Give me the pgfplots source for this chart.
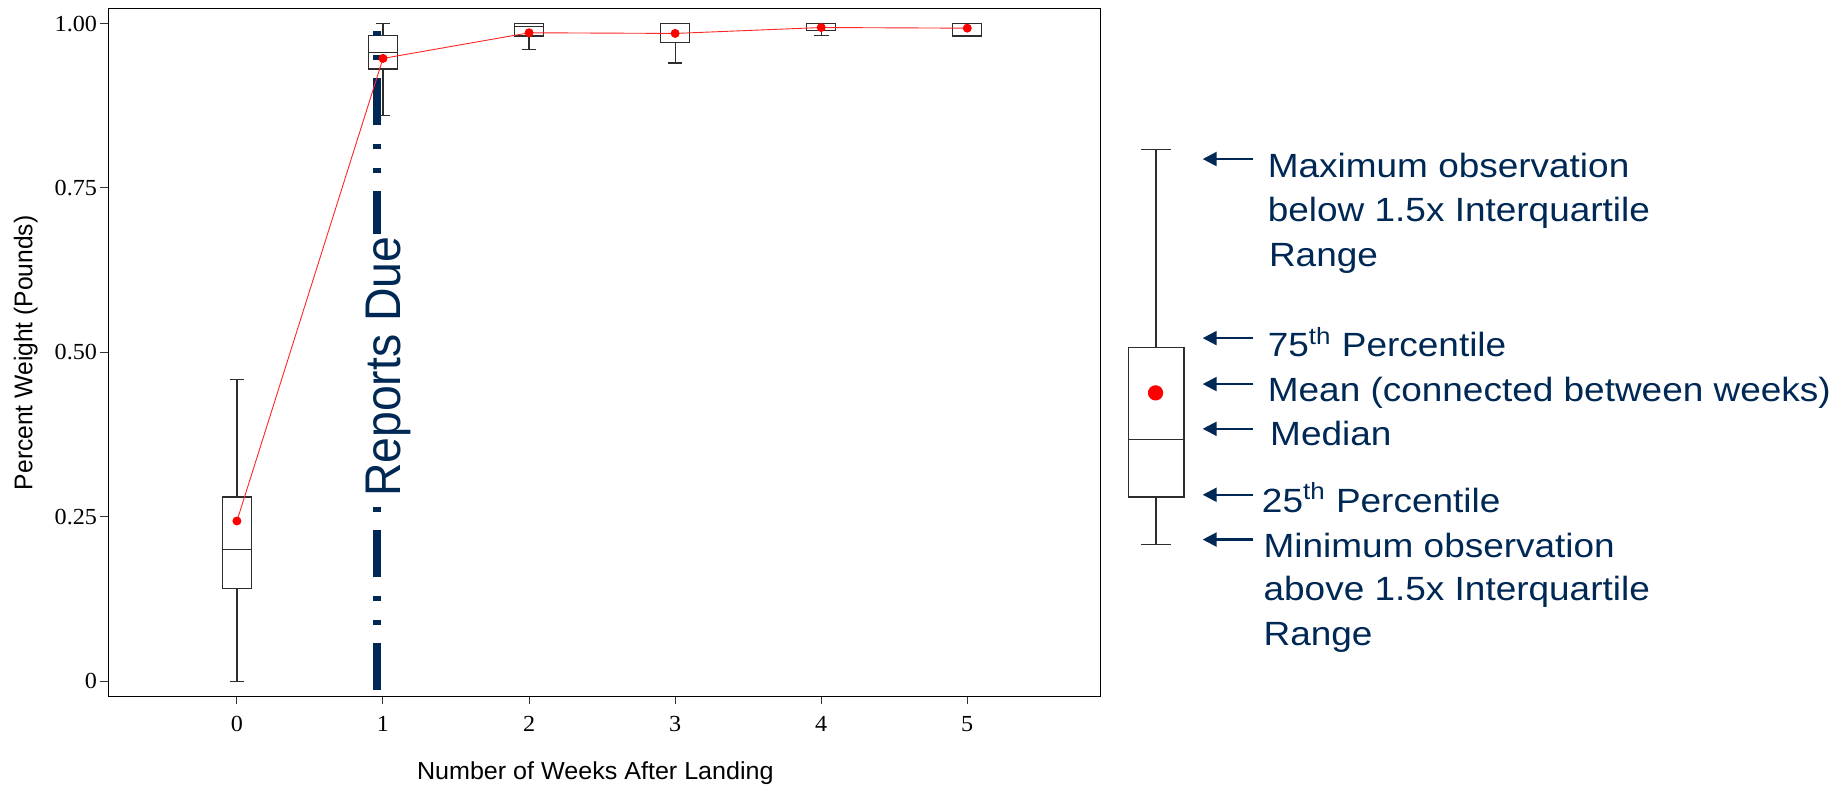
\documentclass[border=0pt]{standalone}
\usepackage{pgfplots}
\pgfplotsset{compat=1.18}
\usepgfplotslibrary{statistics}
\usetikzlibrary{arrows.meta}
\usepackage{graphicx}
\usepackage{fontspec}
\setmainfont{Liberation Sans}
\newfontfamily\seriffont{Liberation Serif}
\definecolor{navy}{RGB}{0,40,85}
\definecolor{boxgray}{RGB}{45,45,45}
\newcommand{\legfont}{\fontsize{16.8}{20}\selectfont}
\newcommand{\hs}[1]{\scalebox{1.1}[1]{#1}}
\newcommand{\tl}[1]{\scalebox{1.05}[1]{\seriffont\fontsize{11.5}{13}\selectfont #1}}
\begin{document}
\begin{tikzpicture}[x=1pt,y=1pt]
\useasboundingbox (0,0) rectangle (923.5,392.3);
\begin{axis}[
  at={(54.19pt,44.17pt)}, anchor=south west,
  scale only axis, width=495.9pt, height=343.9pt,
  xmin=-0.88, xmax=5.91, ymin=-0.023, ymax=1.023,
  xtick={0,1,2,3,4,5}, ytick={0,0.25,0.5,0.75,1},
  xticklabels={\tl{0},\tl{1},\tl{2},\tl{3},\tl{4},\tl{5}},
  yticklabels={\tl{0},\tl{0.25},\tl{0.50},\tl{0.75},\tl{1.00}},
  tick align=outside, tick pos=left, major tick length=4pt,
  tick style={black!80, line width=0.5pt},
  axis line style={black, line width=0.6pt},
  xticklabel style={anchor=north, yshift=-5.8pt, inner sep=0pt},
  yticklabel style={anchor=east, xshift=-1.5pt, inner sep=0pt},
  boxplot/draw direction=y,
  boxplot/box extend=0.2, boxplot/whisker extend=0.1,
  clip=false,
]
\addplot[draw=boxgray, line width=0.6pt, boxplot prepared={draw position=0, lower whisker=0, lower quartile=0.141, median=0.200, upper quartile=0.280, upper whisker=0.459}] coordinates {};
\addplot[draw=boxgray, line width=0.6pt, boxplot prepared={draw position=1, lower whisker=0.860, lower quartile=0.931, median=0.956, upper quartile=0.982, upper whisker=1.0}] coordinates {};
\addplot[draw=boxgray, line width=0.6pt, boxplot prepared={draw position=2, lower whisker=0.960, lower quartile=0.981, median=0.995, upper quartile=1.0, upper whisker=1.0}] coordinates {};
\addplot[draw=boxgray, line width=0.6pt, boxplot prepared={draw position=3, lower whisker=0.940, lower quartile=0.971, median=1.0, upper quartile=1.0, upper whisker=1.0}] coordinates {};
\addplot[draw=boxgray, line width=0.6pt, boxplot prepared={draw position=4, lower whisker=0.982, lower quartile=0.990, median=1.0, upper quartile=1.0, upper whisker=1.0}] coordinates {};
\addplot[draw=boxgray, line width=0.6pt, boxplot prepared={draw position=5, lower whisker=0.981, lower quartile=0.981, median=1.0, upper quartile=1.0, upper whisker=1.0}] coordinates {};
% Reports due line
\addplot[navy, line width=3.7pt, dash pattern=on 23.5pt off 9.4pt on 2.4pt off 9.4pt on 2.4pt off 9.4pt] coordinates {(0.96,-0.014) (0.96,1.012)};
% means
\addplot[red!85!white, line width=0.45pt, mark=*, mark size=2pt, mark options={fill=red, draw=red}] coordinates {(0,0.2435) (1,0.947) (2,0.986) (3,0.985) (4,0.994) (5,0.993)};
\end{axis}
% overlay axis in reference pixel units (1568 x 666)
\begin{axis}[
  at={(0pt,0pt)}, anchor=south west,
  scale only axis, width=923.5pt, height=392.3pt,
  xmin=0, xmax=1568, ymin=0, ymax=666, y dir=reverse,
  hide axis, clip=false,
  boxplot/draw direction=y,
  boxplot/box extend=47, boxplot/whisker extend=25,
]
\addplot[draw=boxgray, line width=0.7pt, boxplot prepared={draw position=981.5, lower whisker=127, lower quartile=295, median=373, upper quartile=422, upper whisker=462}] coordinates {};
\addplot[only marks, mark=*, mark size=3.6pt, mark options={fill=red, draw=red}] coordinates {(981,333.5)};
\node[rotate=90, anchor=base, text=navy, fill=white, inner sep=1pt, font=\fontsize{23.2}{27}\selectfont] at (339.6,311.3) {\scalebox{1}[1.08]{Reports Due}};
\node[rotate=90, anchor=base, font=\fontsize{12.3}{14}\selectfont] at (27.5,299.5) {\scalebox{1}[1.04]{Percent Weight (Pounds)}};
\node[anchor=base, font=\fontsize{12.3}{14}\selectfont] at (505.4,662) {\scalebox{1.02}[1]{Number of Weeks After Landing}};
% legend arrows
\draw[navy, line width=1.1pt, -{Triangle[length=7pt,width=7pt]}] (1064,135) -- (1021,135);
\draw[navy, line width=1.1pt, -{Triangle[length=7pt,width=7pt]}] (1064,287) -- (1021,287);
\draw[navy, line width=1.1pt, -{Triangle[length=7pt,width=7pt]}] (1064,326) -- (1021,326);
\draw[navy, line width=1.1pt, -{Triangle[length=7pt,width=7pt]}] (1064,364) -- (1021,364);
\draw[navy, line width=1.1pt, -{Triangle[length=7pt,width=7pt]}] (1064,420) -- (1021,420);
\draw[navy, line width=1.1pt, -{Triangle[length=7pt,width=7pt]}] (1064,458) -- (1021,458);
\node[anchor=base west, text=navy, font=\legfont, inner sep=0pt] at (1076,150.6) {\hs{Maximum observation}};
\node[anchor=base west, text=navy, font=\legfont, inner sep=0pt] at (1076,188.4) {\hs{below 1.5x Interquartile}};
\node[anchor=base west, text=navy, font=\legfont, inner sep=0pt] at (1077,226) {\hs{Range}};
\node[anchor=base west, text=navy, font=\legfont, inner sep=0pt] at (1076,303) {\hs{75\textsuperscript{th} Percentile}};
\node[anchor=base west, text=navy, font=\legfont, inner sep=0pt] at (1076,341) {\hs{Mean (connected between weeks)}};
\node[anchor=base west, text=navy, font=\legfont, inner sep=0pt] at (1078,378) {\hs{Median}};
\node[anchor=base west, text=navy, font=\legfont, inner sep=0pt] at (1071,434.7) {\hs{25\textsuperscript{th} Percentile}};
\node[anchor=base west, text=navy, font=\legfont, inner sep=0pt] at (1072.4,473.4) {\hs{Minimum observation}};
\node[anchor=base west, text=navy, font=\legfont, inner sep=0pt] at (1072.4,510) {\hs{above 1.5x Interquartile}};
\node[anchor=base west, text=navy, font=\legfont, inner sep=0pt] at (1072.4,548) {\hs{Range}};
\end{axis}
\end{tikzpicture}
\end{document}
